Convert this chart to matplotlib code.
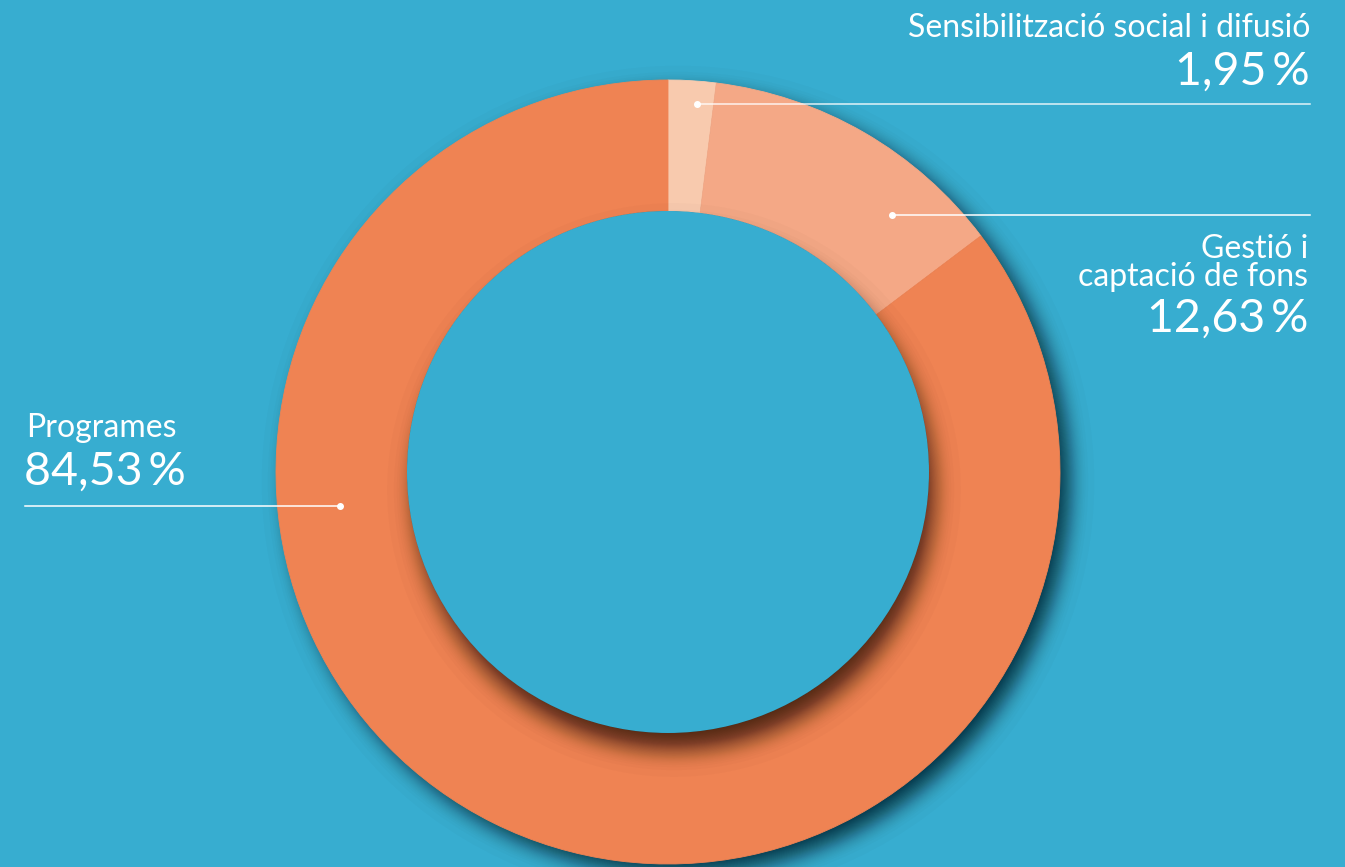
import matplotlib
matplotlib.use('Agg')
import matplotlib.pyplot as plt
from matplotlib.patches import Circle
from statistics import NormalDist
import numpy as np

# --- dades ---
categories = ['Sensibilització social i difusió', 'Gestió i\ncaptació de fons', 'Programes']
values = [1.95, 12.63, 84.53]
colors = ['#F8CAAE', '#F4A886', '#EF8353']
bg = '#37ADD0'

W, H = 1345, 867
def Y(y):
    return H - y

def pct(v):
    return f'{v:.2f}'.replace('.', ',') + '\u2009%'

fig = plt.figure(figsize=(W / 100, H / 100), dpi=100, facecolor=bg)
ax = fig.add_axes([0, 0, 1, 1])
ax.set_facecolor(bg)

cx, cy = 668, Y(472)
r_out, r_in = 392, 261

# ombra difuminada: cercles apilats amb radis segons quantils d'una normal
N = 60
steps = [NormalDist().inv_cdf(q) for q in np.linspace(0.005, 0.995, N)]
def shadow(center, r, sigma, max_alpha, z, clip=None):
    a = 1 - (1 - max_alpha) ** (1 / N)
    for t in steps:
        c = Circle(center, r - sigma * t, color='black', alpha=a, lw=0, zorder=z)
        ax.add_patch(c)
        if clip is not None:
            c.set_clip_path(clip)

# ombra exterior (sobre el fons)
shadow((cx + 10, cy - 10), r_out - 4, 11, 0.6, 1)

wedges, _ = ax.pie(values, colors=colors, startangle=90, counterclock=False,
                   radius=r_out, center=(cx, cy),
                   wedgeprops=dict(width=r_out - r_in, linewidth=0.6))
for w, c in zip(wedges, colors):
    w.set_zorder(2)
    w.set_edgecolor(c)

# ombra del cercle interior sobre l'anell
clip = Circle((cx, cy), r_out, transform=ax.transData)
shadow((cx + 6, cy - 18), r_in - 5, 12, 0.65, 3, clip)
ax.add_patch(Circle((cx, cy), r_in, color=bg, lw=0, zorder=4))

# --- etiquetes ---
font = dict(family=['Lato', 'DejaVu Sans'], weight='normal', color='white', zorder=6)
small, big = 23, 33.5

# Sensibilització
ax.text(1310, Y(37), categories[0], ha='right', va='baseline', fontsize=small, **font)
ax.text(1310, Y(85), pct(values[0]), ha='right', va='baseline', fontsize=big, **font)
ax.plot([697, 1310], [Y(104), Y(104)], color='white', lw=1.1, alpha=0.85, zorder=5)
ax.plot(697, Y(104), 'o', color='white', ms=4, zorder=5)

# Gestió
ax.text(1308, Y(258), 'Gestió i', ha='right', va='baseline', fontsize=small, **font)
ax.text(1308, Y(286), 'captació de fons', ha='right', va='baseline', fontsize=small, **font)
ax.text(1308, Y(332), pct(values[1]), ha='right', va='baseline', fontsize=big, **font)
ax.plot([892, 1310], [Y(215), Y(215)], color='white', lw=1.1, zorder=5)
ax.plot(892, Y(215), 'o', color='white', ms=4, zorder=5)

# Programes
ax.text(26, Y(437), categories[2], ha='left', va='baseline', fontsize=small, **font)
ax.text(24, Y(485), pct(values[2]), ha='left', va='baseline', fontsize=big, **font)
ax.plot([25, 340], [Y(506), Y(506)], color='white', lw=1.1, zorder=5)
ax.plot(340, Y(506), 'o', color='white', ms=4, zorder=5)

ax.set_xlim(0, W)
ax.set_ylim(0, H)
ax.set_aspect('equal')
ax.axis('off')

fig.savefig('out.png', dpi=100, facecolor=bg)
